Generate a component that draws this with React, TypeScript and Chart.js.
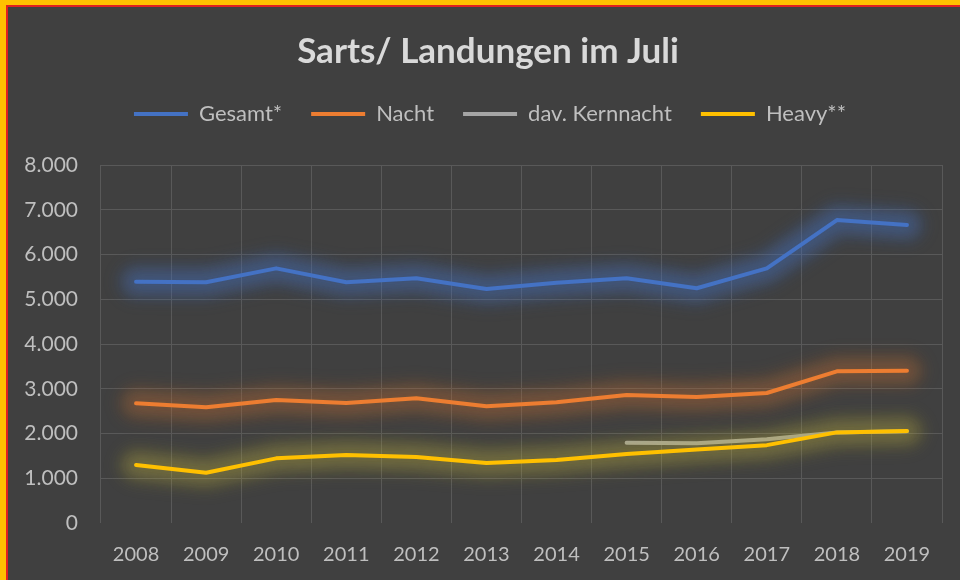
import React, { useEffect, useRef } from "react";
import { Chart, registerables } from "chart.js";

Chart.register(...registerables);

const years = ["2008", "2009", "2010", "2011", "2012", "2013", "2014", "2015", "2016", "2017", "2018", "2019"];
const gesamt = [5390, 5380, 5690, 5380, 5470, 5230, 5370, 5470, 5245, 5690, 6770, 6660];
const nacht = [2675, 2585, 2750, 2680, 2790, 2610, 2700, 2860, 2815, 2905, 3390, 3400];
const kernnacht = [null, null, null, null, null, null, null, 1795, 1780, 1870, 2025, 2050];
const heavy = [1296, 1124, 1445, 1520, 1475, 1340, 1410, 1540, 1645, 1740, 2025, 2055];
const yTicks = [0, 1000, 2000, 3000, 4000, 5000, 6000, 7000, 8000];

const FONT = "Lato, 'Noto Sans', sans-serif";

const glowPlugin = {
  id: "glow",
  beforeDatasetDraw(chart: any, args: any) {
    const meta = args.meta;
    const ds = chart.data.datasets[meta.index];
    if (!ds || !ds.glowRGB) return;
    const pts = meta.data.filter((p: any) => !p.skip && Number.isFinite(p.y));
    if (pts.length < 2) return;
    const ctx = chart.ctx;
    ctx.save();
    ctx.lineCap = "round";
    ctx.lineJoin = "round";
    const layers = [
      [40, 0.13],
      [30, 0.14],
      [20, 0.16],
      [12, 0.18],
    ];
    try {
      ctx.filter = "blur(7px)";
    } catch (e) {}
    for (const [w, a] of layers) {
      ctx.beginPath();
      pts.forEach((p: any, i: number) => (i === 0 ? ctx.moveTo(p.x, p.y) : ctx.lineTo(p.x, p.y)));
      ctx.lineWidth = w;
      ctx.strokeStyle = `rgba(${ds.glowRGB},${Math.min(1, a * ds.glowK)})`;
      ctx.stroke();
    }
    ctx.restore();
  },
};

// shift the title and legend boxes a little to the right, as in the reference
const shiftPlugin = {
  id: "shiftBoxes",
  beforeDraw(chart: any) {
    const shift = (box: any, dx: number) => {
      if (!box || box._shifted) return;
      const orig = box.draw.bind(box);
      box.draw = (...a: any[]) => {
        const ctx = chart.ctx;
        ctx.save();
        ctx.translate(dx, 0);
        orig(...a);
        ctx.restore();
      };
      box._shifted = true;
    };
    shift(chart.legend, 15);
    shift(chart.titleBlock, 13);
  },
};

export default function App() {
  const ref = useRef<HTMLCanvasElement | null>(null);

  useEffect(() => {
    if (!ref.current) return;
    const fmt = (v: number) => (v === 0 ? "0" : (v / 1000).toFixed(3));
    const chart = new Chart(ref.current, {
      type: "line",
      data: {
        labels: years,
        datasets: [
          { label: "Gesamt*", data: gesamt, borderColor: "#4472C4", backgroundColor: "#4472C4", glowRGB: "68,114,196", glowK: 1.0, order: 0 } as any,
          { label: "Nacht", data: nacht, borderColor: "#ED7D31", backgroundColor: "#ED7D31", glowRGB: "200,110,50", glowK: 0.8, order: 1 } as any,
          { label: "dav. Kernnacht", data: kernnacht, borderColor: "#A5A5A5", backgroundColor: "#A5A5A5", order: 3 } as any,
          { label: "Heavy**", data: heavy, borderColor: "#FFC000", backgroundColor: "#FFC000", glowRGB: "190,180,60", glowK: 0.8, order: 2 } as any,
        ],
      },
      options: {
        responsive: false,
        animation: false,
        devicePixelRatio: 1,
        layout: { padding: { left: 0, right: 18, top: 0, bottom: 0 } },
        elements: {
          line: { borderWidth: 4, tension: 0, borderCapStyle: "round", borderJoinStyle: "round" },
          point: { radius: 0, hoverRadius: 0 },
        },
        plugins: {
          tooltip: { enabled: false },
          title: {
            display: true,
            text: "Sarts/ Landungen im Juli",
            color: "#d9d9d9",
            font: { family: FONT, size: 35, weight: "bold" },
            padding: { top: 24, bottom: 1 },
          },
          legend: {
            display: true,
            position: "top",
            labels: {
              color: "#bfbfbf",
              font: { family: FONT, size: 22 },
              boxWidth: 54,
              boxHeight: 4,
              padding: 29,
              generateLabels: (c: any) =>
                c.data.datasets.map((d: any, i: number) => ({
                  text: d.label,
                  fillStyle: d.borderColor,
                  strokeStyle: d.borderColor,
                  lineWidth: 0,
                  fontColor: "#bfbfbf",
                  hidden: false,
                  datasetIndex: i,
                })),
            },
          },
        },
        scales: {
          x: {
            offset: true,
            grid: { offset: true, color: "#595959", lineWidth: 1, drawTicks: false },
            border: { display: false },
            ticks: { color: "#bfbfbf", font: { family: FONT, size: 20 }, padding: 20 },
            afterFit: (s: any) => {
              s.height = 57;
            },
          },
          xTop: {
            type: "category",
            position: "top",
            labels: years,
            grid: { display: false, drawTicks: false },
            border: { display: false },
            ticks: { display: false },
            afterFit: (s: any) => {
              s.height = 30;
            },
          },
          y: {
            min: 0,
            max: 8000,
            afterBuildTicks: (s: any) => {
              s.ticks = yTicks.map((v) => ({ value: v }));
            },
            grid: {
              color: (ctx: any) => (ctx.tick && ctx.tick.value === 0 ? "rgba(0,0,0,0)" : "#595959"),
              lineWidth: 1,
              drawTicks: false,
            },
            border: { display: false },
            ticks: {
              color: "#bfbfbf",
              font: { family: FONT, size: 21 },
              padding: 23,
              callback: (v: any) => fmt(Number(v)),
            },
            afterFit: (s: any) => {
              s.width = 93;
            },
          },
        },
      },
      plugins: [glowPlugin, shiftPlugin],
    } as any);
    chart.draw();
    return () => chart.destroy();
  }, []);

  return (
    <div style={{ position: "fixed", left: 0, top: 0, width: 960, height: 580, background: "#FFC000", overflow: "hidden" }}>
      <div style={{ position: "absolute", left: 6, top: 5, right: 0, bottom: 0, background: "#E02020" }} />
      <div style={{ position: "absolute", left: 8, top: 7, width: 952, height: 573, background: "#404040" }}>
        <canvas ref={ref} width={952} height={573} style={{ display: "block", width: 952, height: 573 }} />
      </div>
    </div>
  );
}
